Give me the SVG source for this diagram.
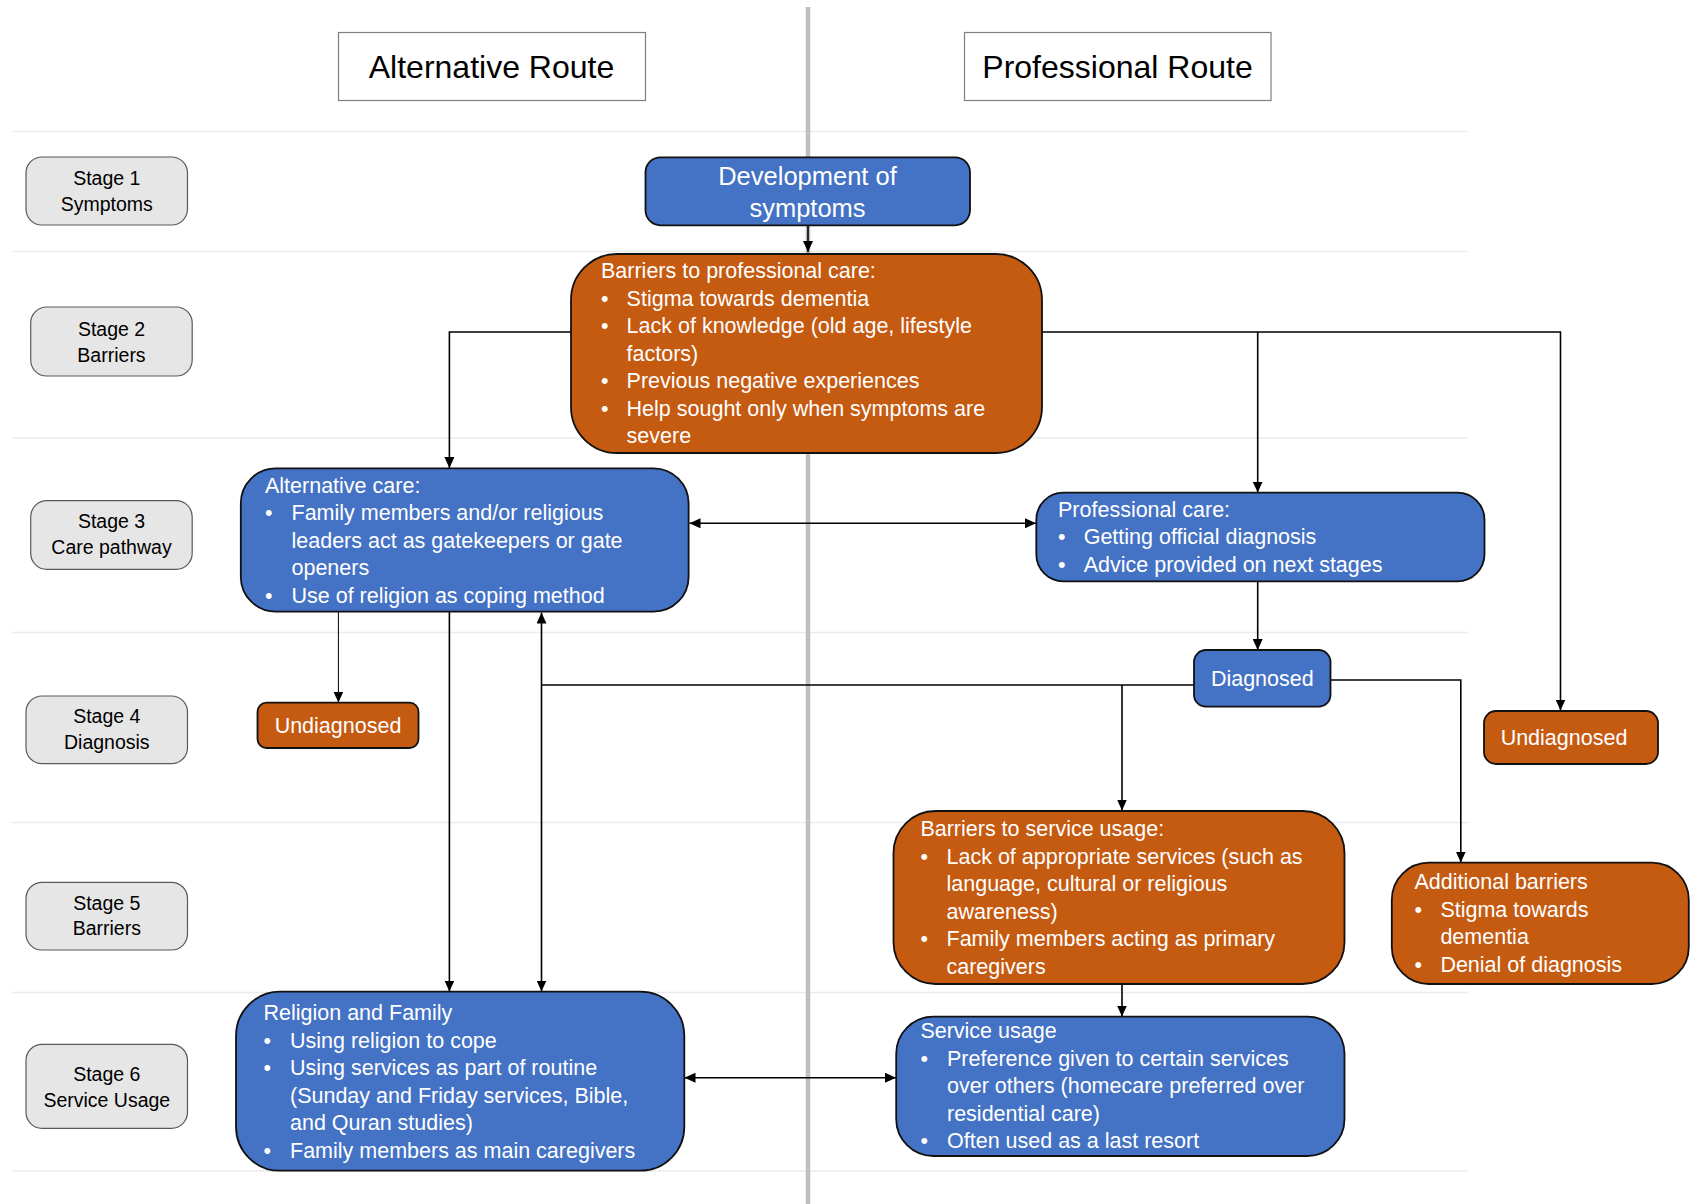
<svg xmlns="http://www.w3.org/2000/svg" width="1690" height="1204" viewBox="0 0 1690 1204">
<style>
text{font-family:"Liberation Sans",Arial,sans-serif}
.sep{stroke:#ebebeb;stroke-width:1.5;fill:none}
.axis{stroke:#bfbfbf;stroke-width:4.5;fill:none}
.title{fill:#fff;stroke:#7f7f7f;stroke-width:1.2}
.tt{font-size:32px;fill:#000;text-anchor:middle}
.stage{fill:#e7e6e6;stroke:#595959;stroke-width:1.2}
.st{font-size:19.5px;fill:#000;text-anchor:middle}
.blue{fill:#4472c4;stroke:#111;stroke-width:1.8}
.orange{fill:#c55a11;stroke:#111;stroke-width:1.8}
.bt{font-size:21.5px;fill:#fff}
.c{text-anchor:middle}
.con{stroke:#000;stroke-width:1.6;fill:none}
.thin{stroke:#000;stroke-width:1;fill:none}
</style>
<defs>
<marker id="ah" viewBox="0 0 11 10" refX="11" refY="5" markerWidth="11" markerHeight="10" markerUnits="userSpaceOnUse" orient="auto-start-reverse">
<path d="M0,0 L11,5 L0,10 z" fill="#000"/>
</marker>
</defs>
<rect width="1690" height="1204" fill="#fff"/>
<g id="separators">
<line class="sep" x1="12" y1="131.5" x2="1468" y2="131.5"/>
<line class="sep" x1="12" y1="251.5" x2="1468" y2="251.5"/>
<line class="sep" x1="12" y1="438" x2="1468" y2="438"/>
<line class="sep" x1="12" y1="632.5" x2="1468" y2="632.5"/>
<line class="sep" x1="12" y1="822.5" x2="1468" y2="822.5"/>
<line class="sep" x1="12" y1="992.5" x2="1468" y2="992.5"/>
<line class="sep" x1="12" y1="1171" x2="1468" y2="1171"/>
<line class="axis" x1="808" y1="7" x2="808" y2="1204"/>
</g>
<g id="header-alternative">
<rect class="title" x="338.5" y="32.5" width="307" height="68"/>
<text class="tt" x="491.5" y="78">Alternative Route</text>
</g>
<g id="header-professional">
<rect class="title" x="964.5" y="32.5" width="306.5" height="68"/>
<text class="tt" x="1117.5" y="78">Professional Route</text>
</g>
<g id="connectors">
<path class="con" d="M808,226 V252" marker-end="url(#ah)"/>
<path class="con" d="M571,332 H449.4 V468" marker-end="url(#ah)"/>
<path class="con" d="M1042,332 H1560.5 V710.5" marker-end="url(#ah)"/>
<path class="con" d="M1257.7,332 V492.5" marker-end="url(#ah)"/>
<path class="con" d="M689.5,523.3 H1036" marker-start="url(#ah)" marker-end="url(#ah)"/>
<path class="thin" d="M338.4,612 V702.5" marker-end="url(#ah)"/>
<path class="con" d="M449.4,612 V991.5" marker-end="url(#ah)"/>
<path class="con" d="M1194,685 H541.5"/>
<path class="con" d="M541.5,612.5 V991.5" marker-start="url(#ah)" marker-end="url(#ah)"/>
<path class="con" d="M1122,685 V810.5" marker-end="url(#ah)"/>
<path class="con" d="M1257.7,581.5 V650" marker-end="url(#ah)"/>
<path class="con" d="M1330.5,680 H1460.8 V862.5" marker-end="url(#ah)"/>
<path class="con" d="M1122,984 V1016.5" marker-end="url(#ah)"/>
<path class="con" d="M684.5,1077.7 H896" marker-start="url(#ah)" marker-end="url(#ah)"/>
</g>
<g id="stage1">
<rect class="stage" x="26" y="157" width="161.5" height="68" rx="16"/>
<text class="st" x="106.8" y="185">Stage 1</text>
<text class="st" x="106.8" y="210.7">Symptoms</text>
</g>
<g id="stage2">
<rect class="stage" x="30.7" y="307" width="161.5" height="69" rx="16"/>
<text class="st" x="111.5" y="336">Stage 2</text>
<text class="st" x="111.5" y="361.7">Barriers</text>
</g>
<g id="stage3">
<rect class="stage" x="30.7" y="500.7" width="161.5" height="68.6" rx="16"/>
<text class="st" x="111.5" y="528.3">Stage 3</text>
<text class="st" x="111.5" y="554">Care pathway</text>
</g>
<g id="stage4">
<rect class="stage" x="26" y="696" width="161.5" height="67.7" rx="16"/>
<text class="st" x="106.8" y="723.3">Stage 4</text>
<text class="st" x="106.8" y="749.3">Diagnosis</text>
</g>
<g id="stage5">
<rect class="stage" x="26" y="882.3" width="161.5" height="67.7" rx="16"/>
<text class="st" x="106.8" y="910">Stage 5</text>
<text class="st" x="106.8" y="935.3">Barriers</text>
</g>
<g id="stage6">
<rect class="stage" x="26" y="1044.3" width="161.5" height="84" rx="16"/>
<text class="st" x="106.8" y="1081">Stage 6</text>
<text class="st" x="106.8" y="1106.7">Service Usage</text>
</g>
<g id="development">
<rect class="blue" x="645.5" y="157.3" width="324.5" height="68" rx="15"/>
<text class="bt c" x="807.5" y="185" style="font-size:25.5px">Development of</text>
<text class="bt c" x="807.5" y="216.7" style="font-size:25.5px">symptoms</text>
</g>
<g id="barriers-professional">
<rect class="orange" x="571" y="254" width="471" height="199" rx="46"/>
<text class="bt" x="601" y="278">Barriers to professional care:</text>
<text class="bt" x="601" y="305.5">•</text><text class="bt" x="626.6" y="305.5">Stigma towards dementia</text>
<text class="bt" x="601" y="333">•</text><text class="bt" x="626.6" y="333">Lack of knowledge (old age, lifestyle</text>
<text class="bt" x="626.6" y="360.5">factors)</text>
<text class="bt" x="601" y="388">•</text><text class="bt" x="626.6" y="388">Previous negative experiences</text>
<text class="bt" x="601" y="415.5">•</text><text class="bt" x="626.6" y="415.5">Help sought only when symptoms are</text>
<text class="bt" x="626.6" y="443">severe</text>
</g>
<g id="alternative-care">
<rect class="blue" x="240.8" y="468.3" width="447.8" height="143.4" rx="35"/>
<text class="bt" x="265" y="492.7">Alternative care:</text>
<text class="bt" x="265" y="520">•</text><text class="bt" x="291.5" y="520">Family members and/or religious</text>
<text class="bt" x="291.5" y="547.5">leaders act as gatekeepers or gate</text>
<text class="bt" x="291.5" y="575">openers</text>
<text class="bt" x="265" y="602.5">•</text><text class="bt" x="291.5" y="602.5">Use of religion as coping method</text>
</g>
<g id="professional-care">
<rect class="blue" x="1036.3" y="492.7" width="448.2" height="88.6" rx="27"/>
<text class="bt" x="1058" y="516.7">Professional care:</text>
<text class="bt" x="1058" y="544">•</text><text class="bt" x="1083.7" y="544">Getting official diagnosis</text>
<text class="bt" x="1058" y="571.5">•</text><text class="bt" x="1083.7" y="571.5">Advice provided on next stages</text>
</g>
<g id="undiagnosed-left">
<rect class="orange" x="257.5" y="702.7" width="161" height="45.3" rx="9"/>
<text class="bt c" x="338" y="732.7">Undiagnosed</text>
</g>
<g id="diagnosed">
<rect class="blue" x="1194" y="650" width="136.5" height="56.7" rx="12"/>
<text class="bt c" x="1262.3" y="686">Diagnosed</text>
</g>
<g id="undiagnosed-right">
<rect class="orange" x="1484" y="711" width="174" height="53" rx="12"/>
<text class="bt c" x="1564" y="745">Undiagnosed</text>
</g>
<g id="barriers-service">
<rect class="orange" x="893.5" y="811" width="451" height="173" rx="42"/>
<text class="bt" x="920.4" y="836">Barriers to service usage:</text>
<text class="bt" x="920.4" y="863.5">•</text><text class="bt" x="946.5" y="863.5">Lack of appropriate services (such as</text>
<text class="bt" x="946.5" y="891">language, cultural or religious</text>
<text class="bt" x="946.5" y="918.5">awareness)</text>
<text class="bt" x="920.4" y="946">•</text><text class="bt" x="946.5" y="946">Family members acting as primary</text>
<text class="bt" x="946.5" y="973.5">caregivers</text>
</g>
<g id="additional-barriers">
<rect class="orange" x="1391.8" y="862.7" width="297" height="121.3" rx="37"/>
<text class="bt" x="1414.5" y="889.3">Additional barriers</text>
<text class="bt" x="1414.5" y="916.7">•</text><text class="bt" x="1440.4" y="916.7">Stigma towards</text>
<text class="bt" x="1440.4" y="944.2">dementia</text>
<text class="bt" x="1414.5" y="971.7">•</text><text class="bt" x="1440.4" y="971.7">Denial of diagnosis</text>
</g>
<g id="religion-family">
<rect class="blue" x="236" y="991.7" width="448.3" height="179" rx="44"/>
<text class="bt" x="263.5" y="1020">Religion and Family</text>
<text class="bt" x="263.5" y="1047.5">•</text><text class="bt" x="290" y="1047.5">Using religion to cope</text>
<text class="bt" x="263.5" y="1075">•</text><text class="bt" x="290" y="1075">Using services as part of routine</text>
<text class="bt" x="290" y="1102.5">(Sunday and Friday services, Bible,</text>
<text class="bt" x="290" y="1130">and Quran studies)</text>
<text class="bt" x="263.5" y="1157.5">•</text><text class="bt" x="290" y="1157.5">Family members as main caregivers</text>
</g>
<g id="service-usage">
<rect class="blue" x="896.2" y="1016.7" width="448.3" height="139.3" rx="37"/>
<text class="bt" x="920.4" y="1038.3">Service usage</text>
<text class="bt" x="920.4" y="1065.7">•</text><text class="bt" x="947" y="1065.7">Preference given to certain services</text>
<text class="bt" x="947" y="1093.2">over others (homecare preferred over</text>
<text class="bt" x="947" y="1120.7">residential care)</text>
<text class="bt" x="920.4" y="1148.2">•</text><text class="bt" x="947" y="1148.2">Often used as a last resort</text>
</g>
</svg>
